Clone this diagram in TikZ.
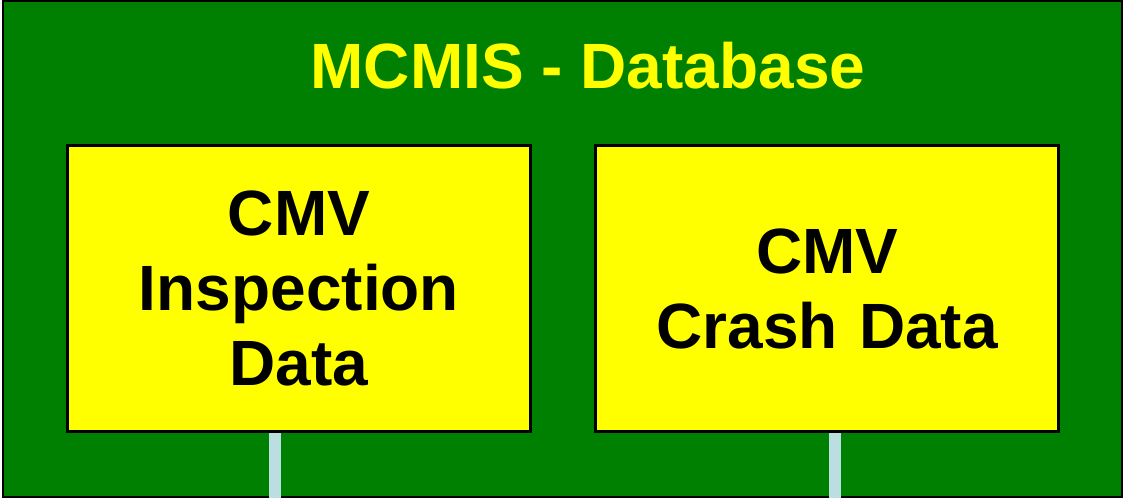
\documentclass[tikz,border=0pt]{standalone}
\usepackage{fontspec}
\setmainfont{Liberation Sans}
\usetikzlibrary{positioning}

\definecolor{dbgreen}{HTML}{008000}
\definecolor{dbyellow}{HTML}{FFFF00}
\definecolor{feedblue}{HTML}{BBDEE3}

\begin{document}
\begin{tikzpicture}[x=0.5pt,y=0.5pt]
    \tikzset{frame/.style= {draw, rectangle
    , line width=1.25pt
    , fill=dbgreen
    , minimum width=559.5pt
    , minimum height=248pt
      },
    block/.style= {draw, rectangle
    , line width=1.5pt
    , fill=dbyellow
    , minimum width=231pt
    , minimum height=143pt
    , text width=225pt
    , align=center
    , font=\bfseries\fontsize{32}{37.5}\selectfont
      },
    feed/.style= {draw=feedblue, line width=6pt}
    }
\useasboundingbox (0,0) rectangle (1125,498);

\node [frame] (db) at (562.5,249) {};
\node [anchor=base, text=dbyellow, font=\bfseries\fontsize{32}{37.5}\selectfont] (title) at (588,409.7) {MCMIS - Database};
\node [block] (insp) at (299,209.4) {CMV\\Inspection\\Data};
\node [block, right=30.9pt of insp] (crash) {CMV\\Crash Data};

\coordinate (inspfeed) at (275,0);
\coordinate (crashfeed) at (835,0);

 \path[feed]
  (insp.south -| inspfeed) -- (inspfeed)
  (crash.south -| crashfeed) -- (crashfeed);
\end{tikzpicture}
\end{document}
